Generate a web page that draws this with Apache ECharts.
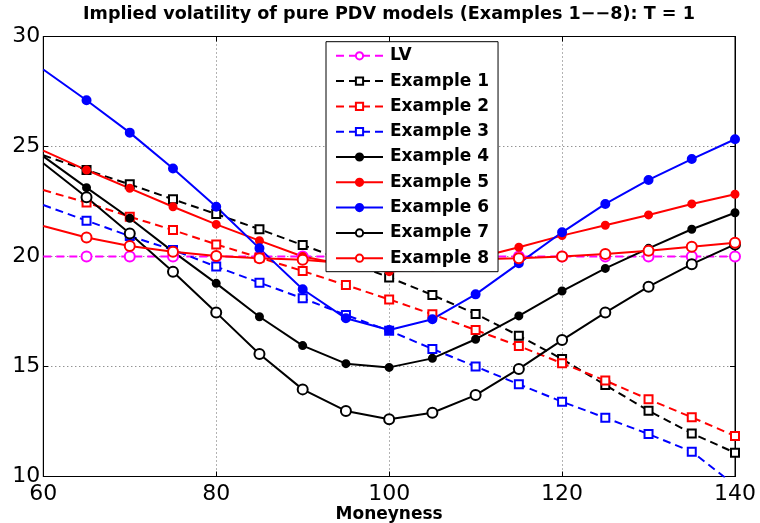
<!DOCTYPE html>
<html>
<head>
<meta charset="utf-8">
<script src="https://cdn.jsdelivr.net/npm/echarts@6/dist/echarts.min.js"></script>
<style>html,body{margin:0;padding:0;background:#fff;}#c{width:760px;height:523px;}</style>
</head>
<body>
<div id="c"></div>
<script>
const moneyness = [60,65,70,75,80,85,90,95,100,105,110,115,120,125,130,135,140];
const lv   = [20,20,20,20,20,20,20,20,20,20,20,20,20,20,20,20,20];
const ex1  = [24.6,23.93,23.28,22.6,21.93,21.24,20.52,19.8,19.05,18.25,17.39,16.4,15.34,14.16,12.99,11.96,11.08];
const ex2  = [23.02,22.45,21.81,21.2,20.55,19.95,19.34,18.7,18.05,17.37,16.66,15.93,15.15,14.36,13.51,12.69,11.84];
const ex3  = [22.34,21.63,20.93,20.3,19.54,18.81,18.1,17.34,16.63,15.8,15.0,14.19,13.4,12.67,11.93,11.13,9.6];
const ex4  = [24.55,23.13,21.74,20.22,18.78,17.26,15.95,15.13,14.96,15.37,16.24,17.3,18.43,19.46,20.37,21.24,21.99];
const ex5  = [24.81,23.93,23.1,22.26,21.46,20.72,20.0,19.61,19.31,19.51,19.92,20.42,20.95,21.42,21.89,22.39,22.83];
const ex6  = [28.5,27.1,25.63,24.0,22.26,20.37,18.51,17.19,16.66,17.15,18.28,19.69,21.1,22.39,23.48,24.43,25.33];
const ex7  = [24.24,22.69,21.05,19.31,17.45,15.57,13.96,12.98,12.6,12.9,13.7,14.89,16.2,17.45,18.63,19.65,20.55];
const ex8  = [21.39,20.86,20.48,20.22,20.02,19.92,19.85,19.69,19.65,19.74,19.87,19.92,20.0,20.11,20.26,20.44,20.62];
const xTicks = [60,80,100,120,140];
const yTicks = [10,15,20,25,30];

const seriesDefs = [
  {name:'LV', data:lv, color:'#ff00ff', dashed:true, symbol:'emptyCircle', size:10},
  {name:'Example 1', data:ex1, color:'#000000', dashed:true, symbol:'emptyRect', size:8},
  {name:'Example 2', data:ex2, color:'#ff0000', dashed:true, symbol:'emptyRect', size:8},
  {name:'Example 3', data:ex3, color:'#0000ff', dashed:true, symbol:'emptyRect', size:8},
  {name:'Example 4', data:ex4, color:'#000000', dashed:false, symbol:'circle', size:7},
  {name:'Example 5', data:ex5, color:'#ff0000', dashed:false, symbol:'circle', size:7},
  {name:'Example 6', data:ex6, color:'#0000ff', dashed:false, symbol:'circle', size:8},
  {name:'Example 7', data:ex7, color:'#000000', dashed:false, symbol:'emptyCircle', size:10},
  {name:'Example 8', data:ex8, color:'#ff0000', dashed:false, symbol:'emptyCircle', size:10}
];

const chart = echarts.init(document.getElementById('c'), null, {renderer:'canvas'});
const FONT = 'DejaVu Sans';
const series = seriesDefs.map(d => ({
  name: d.name,
  type: 'line',
  xAxisIndex: 0, yAxisIndex: 0,
  symbol: d.symbol,
  symbolSize: d.size,
  clip: true,
  animation: false,
  data: d.data.map((v, i) => {
    const item = {value: [moneyness[i], v]};
    if (i === 0) item.symbol = 'none';
    return item;
  }),
  lineStyle: {color: d.color, width: 2, type: d.dashed ? [8,5] : 'solid'},
  itemStyle: {color: d.color, borderColor: d.color, borderWidth: 2}
}));

const splitDotted = {show:true, lineStyle:{color:'#666', width:1, type:[1,3]}};
chart.setOption({
  animation: false,
  backgroundColor: '#fff',
  title: {
    text: 'Implied volatility of pure PDV models (Examples 1\u2212\u22128): T = 1',
    left: 389, top: 5, textAlign: 'center', padding: 0,
    textStyle: {fontFamily: FONT, fontWeight: 'bold', fontSize: 17.6, color: '#000'}
  },
  grid: {left: 43.3, right: 25, top: 36.5, bottom: 46.5, containLabel: false, outerBoundsMode: 'none',
         show: true, borderColor: '#000', borderWidth: 1, backgroundColor: 'transparent'},
  legend: {
    orient: 'vertical', left: 326, top: 41.7,
    padding: [5.6, 9, 5, 9],
    itemWidth: 47, itemHeight: 9, itemGap: 8.3,
    backgroundColor: '#fff', borderColor: '#000', borderWidth: 1, borderRadius: 0,
    textStyle: {fontFamily: FONT, fontWeight: 'bold', fontSize: 17, color: '#000', lineHeight: 14, padding: [0,0,0,2]},
    data: seriesDefs.map(d => d.name)
  },
  xAxis: [{
    type: 'value', min: 60, max: 140, interval: 20,
    name: 'Moneyness', nameLocation: 'middle', nameGap: 30, nameMoveOverlap: false,
    nameTextStyle: {fontFamily: FONT, fontWeight: 'bold', fontSize: 17, color: '#000'},
    axisLine: {show: true, lineStyle: {color: '#000', width: 1}},
    axisTick: {show: true, inside: true, length: 5, lineStyle: {color: '#000'}},
    axisLabel: {fontFamily: FONT, fontSize: 22, color: '#000', margin: 7, formatter: v => xTicks.includes(v) ? String(v) : ''},
    splitLine: splitDotted
  }, {
    type: 'value', min: 60, max: 140, interval: 20, position: 'top',
    axisLine: {show: true, lineStyle: {color: '#000'}},
    axisTick: {show: true, inside: true, length: 5, lineStyle: {color: '#000'}},
    axisLabel: {show: false}, splitLine: {show: false}
  }],
  yAxis: [{
    type: 'value', min: 10, max: 30, interval: 5,
    axisLine: {show: true, lineStyle: {color: '#000', width: 1}},
    axisTick: {show: true, inside: true, length: 5, lineStyle: {color: '#000'}},
    axisLabel: {fontFamily: FONT, fontSize: 22, color: '#000', margin: 3, formatter: v => yTicks.includes(v) ? String(v) : ''},
    splitLine: splitDotted
  }, {
    type: 'value', min: 10, max: 30, interval: 5, position: 'right',
    axisLine: {show: true, lineStyle: {color: '#000'}},
    axisTick: {show: true, inside: true, length: 5, lineStyle: {color: '#000'}},
    axisLabel: {show: false}, splitLine: {show: false}
  }],
  series: series
});
</script>
</body>
</html>
